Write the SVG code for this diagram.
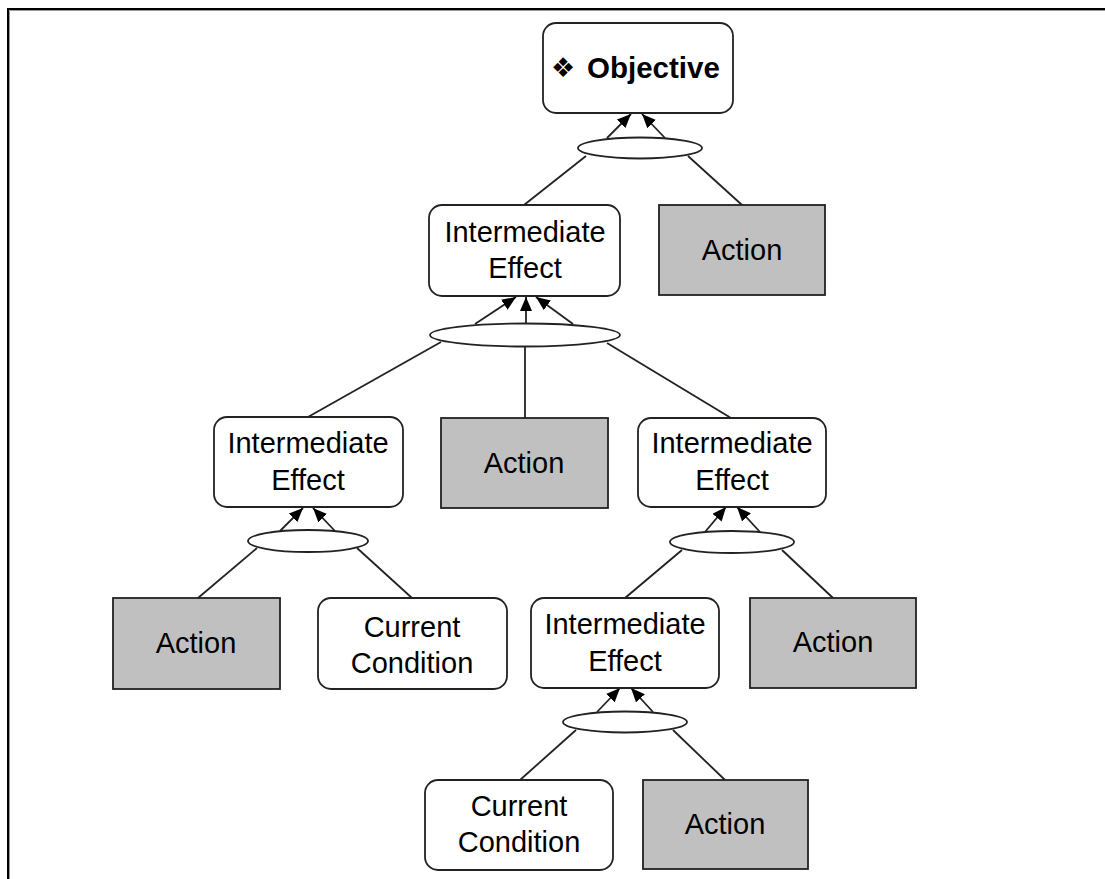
<svg xmlns="http://www.w3.org/2000/svg" width="1105" height="879" viewBox="0 0 1105 879">
  <defs>
    <marker id="arrow" markerUnits="userSpaceOnUse" markerWidth="15" markerHeight="12" refX="14" refY="6" orient="auto">
      <path d="M0,0 L14,6 L0,12 z" fill="#000"/>
    </marker>
    <style>
      .frame { stroke: #000; stroke-width: 2; fill: none; }
      .frame2 { stroke: #999; stroke-width: 1; fill: none; }
      .rounded { fill: #fff; stroke: #222; stroke-width: 1.8; }
      .action { fill: #c0c0c0; stroke: #222; stroke-width: 1.8; }
      .junction { fill: #fff; stroke: #222; stroke-width: 1.8; }
      .label { font-family: "Liberation Sans", Arial, sans-serif; font-size: 29px; fill: #000; text-anchor: middle; }
      .link { stroke: #222; stroke-width: 1.8; fill: none; }
      .up { stroke: #222; stroke-width: 1.8; fill: none; marker-end: url(#arrow); }
    </style>
  </defs>

  <rect width="1105" height="879" fill="#fff"/>

  <!-- page frame: top and left edges only -->
  <path class="frame" d="M8,879 V9 H1105"/>
  <path class="frame2" d="M9.5,879 V10.5 H1105"/>

  <!-- connectors -->
  <g id="connectors">
    <!-- AND junctions -->
    <ellipse class="junction" cx="640" cy="148" rx="62" ry="10.5"/>
    <ellipse class="junction" cx="525" cy="335" rx="95" ry="11.5"/>
    <ellipse class="junction" cx="308" cy="541" rx="60" ry="11"/>
    <ellipse class="junction" cx="732" cy="542" rx="62" ry="11"/>
    <ellipse class="junction" cx="625" cy="722" rx="62" ry="10.5"/>

    <!-- junction to parent -->
    <line class="up" x1="607" y1="138" x2="631" y2="114"/>
    <line class="up" x1="665" y1="138" x2="642" y2="114"/>

    <line class="up" x1="475" y1="324" x2="516" y2="297"/>
    <line class="up" x1="526" y1="323.5" x2="526" y2="297"/>
    <line class="up" x1="573" y1="324" x2="536" y2="297"/>

    <line class="up" x1="280" y1="531" x2="303" y2="508"/>
    <line class="up" x1="335" y1="531" x2="313" y2="508"/>

    <line class="up" x1="705" y1="532" x2="726" y2="507"/>
    <line class="up" x1="760" y1="532" x2="737" y2="507"/>

    <line class="up" x1="597" y1="712" x2="620" y2="688"/>
    <line class="up" x1="653" y1="712" x2="631" y2="688"/>

    <!-- children to junction -->
    <line class="link" x1="586" y1="156" x2="524" y2="205"/>
    <line class="link" x1="688" y1="156" x2="742" y2="205"/>

    <line class="link" x1="441" y1="342" x2="308" y2="417"/>
    <line class="link" x1="525" y1="346.5" x2="525" y2="418"/>
    <line class="link" x1="607" y1="343" x2="731" y2="418"/>

    <line class="link" x1="257" y1="548" x2="198" y2="598"/>
    <line class="link" x1="357" y1="548" x2="412" y2="598"/>

    <line class="link" x1="682" y1="550" x2="625" y2="598"/>
    <line class="link" x1="782" y1="550" x2="833" y2="598"/>

    <line class="link" x1="576" y1="730" x2="520" y2="780"/>
    <line class="link" x1="673" y1="730" x2="725" y2="780"/>
  </g>

  <!-- nodes -->
  <g id="objective">
    <rect class="rounded" x="543" y="23" width="190" height="90" rx="13"/>
    <text x="551" y="77" font-family="DejaVu Sans, sans-serif" font-size="27" fill="#000">❖</text>
    <text x="587" y="78" font-family="Liberation Sans, Arial, sans-serif" font-size="29.5" font-weight="bold" fill="#000">Objective</text>
  </g>

  <g id="effect1">
    <rect class="rounded" x="429" y="205" width="191" height="91" rx="13"/>
    <text class="label" x="525" y="242">Intermediate</text>
    <text class="label" x="525" y="278">Effect</text>
  </g>

  <g id="action1">
    <rect class="action" x="659" y="205" width="166" height="90"/>
    <text class="label" x="742" y="260">Action</text>
  </g>

  <g id="effect2">
    <rect class="rounded" x="214" y="417" width="189" height="90" rx="13"/>
    <text class="label" x="308" y="453">Intermediate</text>
    <text class="label" x="308" y="490">Effect</text>
  </g>

  <g id="action2">
    <rect class="action" x="441" y="418" width="167" height="90"/>
    <text class="label" x="524" y="473">Action</text>
  </g>

  <g id="effect3">
    <rect class="rounded" x="638" y="418" width="188" height="89" rx="13"/>
    <text class="label" x="732" y="453">Intermediate</text>
    <text class="label" x="732" y="490">Effect</text>
  </g>

  <g id="action3">
    <rect class="action" x="113" y="598" width="167" height="91"/>
    <text class="label" x="196" y="653">Action</text>
  </g>

  <g id="condition1">
    <rect class="rounded" x="318" y="598" width="189" height="91" rx="13"/>
    <text class="label" x="412" y="637">Current</text>
    <text class="label" x="412" y="673">Condition</text>
  </g>

  <g id="effect4">
    <rect class="rounded" x="531" y="598" width="188" height="90" rx="13"/>
    <text class="label" x="625" y="634">Intermediate</text>
    <text class="label" x="625" y="671">Effect</text>
  </g>

  <g id="action4">
    <rect class="action" x="750" y="598" width="166" height="90"/>
    <text class="label" x="833" y="652">Action</text>
  </g>

  <g id="condition2">
    <rect class="rounded" x="425" y="780" width="188" height="90" rx="13"/>
    <text class="label" x="519" y="816">Current</text>
    <text class="label" x="519" y="852">Condition</text>
  </g>

  <g id="action5">
    <rect class="action" x="643" y="780" width="165" height="89"/>
    <text class="label" x="725" y="834">Action</text>
  </g>
</svg>
